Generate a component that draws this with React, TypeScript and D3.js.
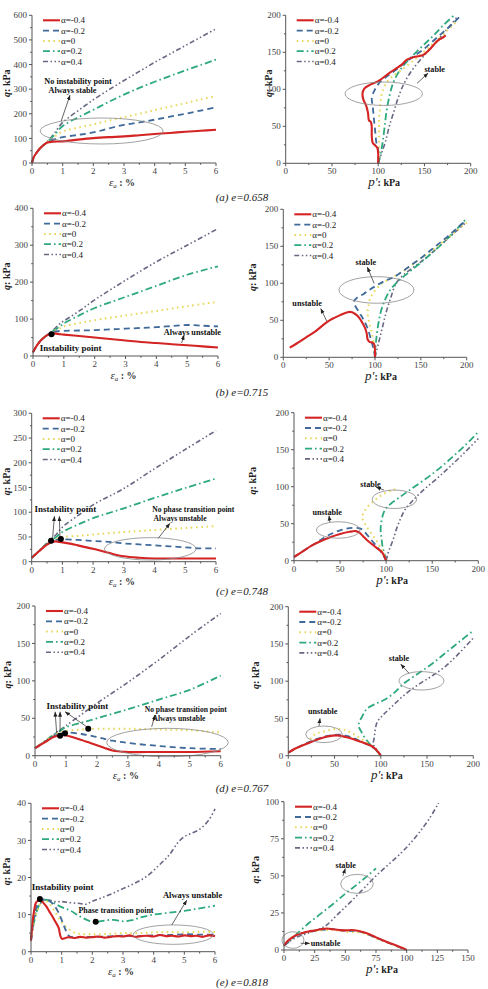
import React from "react";
import * as d3 from "d3";

type Pt = [number, number];

const FONT = "'Liberation Serif', 'Times New Roman', serif";

// series order everywhere: α=-0.4, -0.2, 0, 0.2, 0.4
const ALPHAS = ["-0.4", "-0.2", "0", "0.2", "0.4"];
const COLORS = ["#d42424", "#3f6a9a", "#e6d85a", "#2ea97d", "#686884"];
const DASHES = ["none", "6,4", "1.6,3.6", "7,3,1.6,3", "5,2.5,1.5,2.5,1.5,2.5"];
const WIDTHS = [2.1, 1.8, 2, 1.8, 1.6];

const CAPTIONS = ["(a) e=0.658", "(b) e=0.715", "(c) e=0.748", "(d) e=0.767", "(e) e=0.818"];

// ---- stress–strain curves (εa %, q kPa) ----
const STRAIN_A: Pt[][] = [
  [[0,0],[0.05,22],[0.15,42],[0.25,58],[0.4,75],[0.5,83],[0.7,87],[1,88],[1.5,95],[2,101],[2.5,105],[3,108],[3.5,113],[4,118],[4.5,122],[5,127],[5.5,131],[6,135]],
  [[0,0],[0.05,22],[0.15,42],[0.25,58],[0.4,75],[0.5,84],[0.7,95],[1,105],[1.5,114],[2,124],[2.5,140],[3,155],[3.5,165],[4,176],[4.5,188],[5,200],[5.5,213],[6,226]],
  [[0,0],[0.05,22],[0.15,42],[0.25,58],[0.4,75],[0.5,85],[0.7,104],[1,128],[1.5,143],[2,157],[2.5,172],[3,186],[3.5,200],[4,215],[4.5,229],[5,243],[5.5,258],[6,272]],
  [[0,0],[0.05,22],[0.15,42],[0.25,58],[0.4,75],[0.5,86],[0.7,110],[1,150],[1.5,185],[2,216],[2.5,248],[3,278],[3.5,305],[4,330],[4.5,353],[5,376],[5.5,398],[6,420]],
  [[0,0],[0.05,22],[0.15,42],[0.25,58],[0.4,75],[0.5,87],[0.7,116],[1,165],[1.5,212],[2,257],[2.5,297],[3,335],[3.5,372],[4,409],[4.5,443],[5,477],[5.5,511],[6,545]],
];

const STRAIN_B: Pt[][] = [
  [[0,10],[0.1,25],[0.2,37],[0.3,46],[0.45,56],[0.6,61],[0.8,60],[1,58],[1.5,54],[2,50],[2.5,46],[3,42],[3.5,38],[4,35],[4.5,32],[5,29],[5.5,26],[6,23]],
  [[0,10],[0.1,25],[0.2,37],[0.3,46],[0.45,56],[0.6,63],[0.8,67],[1,68],[1.5,69],[2,70],[2.5,72],[3,74],[3.5,76],[4,78],[4.5,81],[5,84],[5.5,82],[6,80]],
  [[0,10],[0.1,25],[0.2,37],[0.3,46],[0.45,56],[0.6,64],[0.8,72],[1,80],[1.5,89],[2,97],[3,110],[4,122],[5,135],[6,147]],
  [[0,10],[0.1,25],[0.2,37],[0.3,46],[0.45,56],[0.6,65],[0.8,76],[1,88],[1.5,110],[2,130],[3,160],[4,190],[5,220],[6,243]],
  [[0,10],[0.1,25],[0.2,37],[0.3,46],[0.45,56],[0.6,66],[0.8,82],[0.9,90],[1,95],[1.5,122],[2,152],[3,205],[4,255],[5,300],[6,345]],
];

const STRAIN_C: Pt[][] = [
  [[0,8],[0.2,19],[0.4,30],[0.6,38],[0.75,41],[0.9,40],[1.2,37],[1.5,33],[2,26],[2.5,18],[3,11],[3.5,8],[4,6.5],[4.5,6.5],[5,6.5],[5.5,6.5],[6,6.5]],
  [[0,8],[0.2,19],[0.4,30],[0.6,39],[0.8,44],[1,45],[1.5,44],[2,42],[2.5,40],[3,37],[3.5,35],[4,33],[4.5,31],[5,29],[5.5,27],[6,27]],
  [[0,8],[0.2,19],[0.4,30],[0.6,40],[0.8,46],[1,50],[1.5,52],[2,55],[3,60],[4,64],[5,68],[6,72]],
  [[0,8],[0.2,19],[0.4,31],[0.6,42],[0.8,50],[1,60],[1.5,75],[2,88],[3,108],[4,129],[5,149],[6,168]],
  [[0,8],[0.2,20],[0.4,32],[0.6,44],[0.8,55],[1,70],[1.5,93],[2,115],[3,148],[4,188],[5,227],[6,265]],
];

const STRAIN_D: Pt[][] = [
  [[0,10],[0.2,15],[0.4,20],[0.6,25],[0.8,27],[1,27],[1.5,21],[2,14],[2.5,7],[3,5],[4,5],[5,5],[6,6]],
  [[0,10],[0.2,15],[0.4,21],[0.6,26],[0.8,29],[1,31],[1.5,29],[2,25],[2.5,20],[3,17],[4,13],[5,10],[6,9]],
  [[0,10],[0.2,16],[0.4,22],[0.6,27],[0.8,31],[1,33],[1.5,35],[2,36],[3,36],[4,35],[5,34],[6,31]],
  [[0,10],[0.2,16],[0.4,22],[0.6,28],[0.8,33],[1,38],[1.5,44],[2,50],[3,62],[4,75],[5,88],[6,107]],
  [[0,10],[0.2,16],[0.4,22],[0.6,28],[0.8,34],[1,40],[1.5,55],[2,70],[3,98],[4,128],[5,160],[6,190]],
];

const STRAIN_E: Pt[][] = [
  [[0,3],[0.05,8],[0.1,11],[0.15,13],[0.2,13.6],[0.3,13.8],[0.4,13.2],[0.5,12.2],[0.6,10.8],[0.7,9.5],[0.8,8],[0.9,6.5],[0.95,4.5],[1,3.5],[1.1,3.6],[1.2,3.9],[1.4,3.7],[1.6,4],[1.8,3.8],[2,3.9],[2.2,4.1],[2.4,3.8],[2.6,4],[2.8,4.2],[3,4.1],[3.2,4.4],[3.4,4],[3.6,4.2],[3.8,4.3],[4,4.1],[4.2,4.5],[4.4,4.2],[4.6,4.3],[4.8,4.1],[5,4.4],[5.2,4.2],[5.4,4.3],[5.6,4],[5.8,4.4],[6,4.2]],
  [[0,3],[0.1,9],[0.2,12.5],[0.35,14],[0.5,14],[0.7,13],[0.9,10.5],[1.05,7.5],[1.15,5.5],[1.25,4.2],[1.4,3.9],[1.7,4],[2,4],[2.5,4.1],[3,4.3],[3.5,4.2],[4,4.4],[4.5,4.5],[5,4.7],[5.5,4.6],[6,4.6]],
  [[0,3],[0.1,8],[0.25,12],[0.4,14],[0.6,13],[0.8,10.5],[1,8],[1.2,6.3],[1.4,5.2],[1.6,4.8],[2,4.7],[2.5,4.8],[3,5],[3.5,5],[4,5.2],[4.5,5.3],[5,5.2],[5.5,5.4],[6,5.3]],
  [[0,3],[0.1,8],[0.3,13],[0.5,14],[0.7,13.3],[1,12],[1.3,11],[1.6,9.5],[1.9,8.3],[2.1,8],[2.4,8.4],[2.7,8.6],[3,8.2],[3.3,8.5],[3.6,9.3],[4,10],[4.5,10.5],[5,11],[5.5,11.7],[6,12.4]],
  [[0,3],[0.1,9],[0.3,13],[0.5,14],[0.8,13.5],[1,13.5],[1.3,13.2],[1.6,13],[1.8,12.8],[2,13.6],[2.3,14.5],[2.6,15.5],[3,17],[3.4,18.5],[3.8,20.5],[4.2,23.5],[4.5,26],[4.8,29.5],[5,31],[5.2,31.8],[5.5,33],[5.8,35.5],[6,38.5]],
];

// ---- effective stress paths (p' kPa, q kPa) ----
const PATH_A: Pt[][] = [
  [[100,0],[100,12],[99,21],[96,25],[94,28],[93,38],[93,50],[92,56],[90,58],[89,68],[87,78],[84,86],[83,94],[85,101],[91,106],[100,111],[113,123],[125,133],[131,140],[140,144],[148,146],[155,153],[162,163],[167,168],[170,170],[173,173]],
  [[100,0],[100,18],[98,28],[97,40],[96,52],[95,65],[94,78],[93,88],[95,96],[98,103],[102,110],[110,118],[120,127],[130,137],[140,146],[150,155],[160,166],[170,177],[180,188],[189,199]],
  [[100,0],[101,15],[101,30],[101,45],[101,60],[102,75],[103,88],[105,99],[109,109],[115,117],[125,126],[135,136],[145,146],[155,157],[165,168],[175,180],[185,192]],
  [[100,0],[103,15],[105,30],[107,50],[109,70],[112,90],[116,108],[122,123],[130,136],[140,149],[150,161],[160,173],[170,186],[182,200]],
  [[100,0],[104,15],[108,30],[112,50],[117,70],[122,90],[128,108],[135,123],[145,139],[155,153],[165,167],[175,182],[185,197]],
];

const PATH_B: Pt[][] = [
  [[7,13],[15,19],[25,27],[35,35],[48,48],[55,53],[62,57],[70,61],[75,61],[79,58],[83,53],[86,47],[89,40],[91,32],[92,24],[94,21],[97,20],[99,18],[100,0]],
  [[100,0],[99,8],[96,22],[92,39],[87,52],[82,62],[77,75],[80,80],[88,86],[95,92],[103,98],[112,104],[120,108],[130,116],[140,125],[150,134],[160,144],[170,154],[180,164],[190,175],[200,186]],
  [[100,0],[99,15],[97,30],[94,45],[92,60],[93,70],[95,80],[100,90],[108,100],[116,106],[125,112],[135,120],[145,129],[155,138],[165,147],[175,157],[185,167],[195,177],[200,182]],
  [[100,0],[101,20],[103,40],[106,60],[110,75],[116,90],[123,100],[132,110],[142,120],[152,130],[162,141],[172,152],[182,164],[192,177],[200,188]],
  [[100,0],[104,20],[108,40],[112,60],[117,80],[123,100],[130,110],[140,120],[150,129],[160,139],[170,150],[180,161],[190,172],[200,183]],
];

const PATH_C: Pt[][] = [
  [[0,5],[5,9],[10,13],[20,21],[30,27],[40,32],[50,36],[60,39],[67,40],[71,38],[75,33],[80,27],[85,22],[90,17],[95,12],[98,6],[100,0]],
  [[0,5],[10,13],[20,21],[30,29],[40,36],[50,41],[60,44],[70,44],[74,42],[78,37],[82,31],[86,25],[90,19],[95,11],[100,0]],
  [[100,0],[97,10],[93,20],[88,30],[82,40],[77,50],[74,58],[76,66],[80,73],[86,80],[93,87],[100,92],[108,96],[114,98]],
  [[100,0],[98,10],[96,20],[95,30],[94,42],[95,54],[97,64],[100,71],[105,77],[115,86],[125,95],[140,108],[155,122],[170,138],[185,155],[200,174]],
  [[100,0],[102,10],[105,20],[108,30],[111,42],[115,55],[120,68],[128,80],[140,95],[155,111],[170,128],[185,146],[200,165]],
];

const PATH_D: Pt[][] = [
  [[0,4],[5,8],[10,11],[20,16],[30,21],[40,25],[48,27],[55,27],[62,25],[68,23],[75,20],[82,17],[90,13],[95,8],[100,0]],
  [[0,4],[10,11],[20,17],[30,22],[40,26],[50,28],[58,28],[65,26],[72,23],[80,18],[88,14],[94,9],[100,0]],
  [[0,4],[10,11],[20,17],[25,24],[28,28],[33,31],[40,33],[47,35],[54,36],[60,35],[66,32],[72,28],[78,23],[84,18],[90,13],[95,8],[100,0]],
  [[100,0],[95,7],[90,13],[84,22],[79,32],[76,41],[80,53],[85,63],[95,70],[104,75],[115,85],[125,97],[140,110],[154,122],[170,138],[185,153],[200,168]],
  [[100,0],[96,8],[92,15],[93,25],[94,35],[96,45],[102,54],[112,66],[125,81],[140,95],[154,106],[170,120],[185,138],[200,158]],
];

const PATH_E: Pt[][] = [
  [[0,3],[3,6],[6,8],[10,10],[15,11.5],[20,12.5],[25,13.2],[30,14],[35,14.5],[40,14],[45,13.5],[50,13.2],[55,13.5],[60,13],[65,12],[70,10.5],[75,8.5],[80,6.8],[85,5],[90,3.5],[95,1.8],[100,0]],
  [[0,3],[4,6],[8,9],[12,10.5],[18,12],[25,13],[30,14],[34,13.5],[38,14.2],[45,13.5],[52,12.8],[58,13],[64,12],[70,10],[76,8],[82,6],[90,3.2],[100,0]],
  [[0,3],[2,5],[4,7],[8,9.5],[15,11.5],[22,12.5],[30,13],[38,13.5],[45,13],[52,12],[60,12],[66,11],[72,9],[78,6.8],[85,4.8],[92,2.5],[100,0]],
  [[0,3],[3,5],[6,7.5],[10,10.5],[20,18],[30,24.5],[40,31],[50,38],[60,44.5],[68,50],[75,55]],
  [[0,3],[5,6],[10,8.5],[20,11.5],[30,14.5],[35,17],[45,25],[55,33],[65,41.5],[75,50],[85,57.5],[95,65],[103,72],[110,79],[118,88],[126,99]],
];

// ---- annotations, in data units (ellipse radii in px) ----
type Ell = [number, number, number, number];
type Arrow = [number, number, number, number];
type Label = { x: number; y: number; t: string; size?: number; anchor?: string };

const ELL_A = [[2.27, 130, 61.5, 13]] as Ell[];
const ELL_A2 = [[106, 94, 38.7, 11.7]] as Ell[];
const ELL_B2 = [[101.6, 91, 37.5, 13.3]] as Ell[];
const ELL_C = [[3.86, 26, 45.8, 11.2]] as Ell[];
const ELL_C2 = [[109, 83, 22.2, 9.2], [48, 41.5, 21.7, 8.3]] as Ell[];
const ELL_D = [[4.28, 17.6, 60.8, 14.2]] as Ell[];
const ELL_D2 = [[144, 100.5, 22.5, 9.2], [38.6, 28.7, 18.3, 8.3]] as Ell[];
const ELL_E = [[4.64, 4.6, 40, 9.7]] as Ell[];
const ELL_E2 = [[59.5, 44.6, 16.3, 9.5], [7.3, 6.7, 11, 8.3]] as Ell[];

const ARR_A = [[0.95, 170, 1.24, 276]] as Arrow[];
const ARR_A2 = [[142, 108, 154, 122]] as Arrow[];
const ARR_B = [[4.82, 35, 4.9, 57]] as Arrow[];
const ARR_B2 = [[99, 100, 91.6, 122], [47.3, 49, 40.8, 66]] as Arrow[];
const ARR_C = [[0.68, 47.3, 0.74, 92], [0.92, 50.5, 0.9, 92], [4.12, 47.3, 4.5, 77.6]] as Arrow[];
const ARR_C2 = [[97.6, 95.5, 89, 99.6], [39, 52, 38, 61]] as Arrow[];
const ARR_D = [[0.7, 30, 0.65, 58.8], [0.81, 32, 0.81, 58.8], [1.67, 38.7, 0.97, 58.8], [3.77, 38.7, 3.88, 54.4]] as Arrow[];
const ARR_D2 = [[130.5, 110.6, 121.5, 123], [33.2, 39.9, 34.3, 50.2]] as Arrow[];
const ARR_E = [[4.59, 7.2, 5.08, 13.9]] as Arrow[];
const ARR_E2 = [[48, 50, 50, 55], [13.6, 4.5, 21, 4.5]] as Arrow[];

const DOT_B: Pt[] = [[0.6, 59]];
const DOT_C: Pt[] = [[0.63, 42.4], [0.95, 46]];
const DOT_D: Pt[] = [[0.81, 26.7], [0.97, 30], [1.72, 36]];
const DOT_E: Pt[] = [[0.29, 14.2], [2.11, 8.1]];

const TXT_A: Label[] = [{ x: 1.5, y: 334, t: "No instability  point" }, { x: 1.32, y: 296, t: "Always stable" }];
const TXT_A2: Label[] = [{ x: 161, y: 127, t: "stable" }];
const TXT_B: Label[] = [{ x: 1.22, y: 22, t: "Instability point", size: 9 }, { x: 5.17, y: 64, t: "Always unstable" }];
const TXT_B2: Label[] = [{ x: 90, y: 128, t: "stable" }, { x: 26, y: 73, t: "unstable" }];
const TXT_C: Label[] = [
  { x: 1.1, y: 106, t: "Instability point", size: 9 },
  { x: 5.26, y: 106, t: "No phase transition point", size: 7.6 },
  { x: 4.83, y: 88, t: "Always unstable", size: 7.6 },
];
const TXT_C2: Label[] = [{ x: 83, y: 103, t: "stable" }, { x: 36, y: 66, t: "unstable" }];
const TXT_D: Label[] = [
  { x: 1.37, y: 67, t: "Instability point", size: 9 },
  { x: 4.87, y: 62, t: "No phase transition point", size: 7.6 },
  { x: 4.65, y: 50.5, t: "Always unstable", size: 7.6 },
];
const TXT_D2: Label[] = [{ x: 119.7, y: 131.5, t: "stable" }, { x: 37.2, y: 60.4, t: "unstable" }];
const TXT_E: Label[] = [
  { x: 1.03, y: 17.5, t: "Instability point", size: 9 },
  { x: 2.77, y: 11.2, t: "Phase transition point", size: 8 },
  { x: 5.27, y: 15.3, t: "Always unstable", size: 8.5 },
];
const TXT_E2: Label[] = [{ x: 50.3, y: 57.3, t: "stable" }, { x: 21.8, y: 4.5, t: "unstable", anchor: "start" }];

type PanelProps = {
  box: [number, number, number, number]; // left, right, bottom, top
  xDomain: [number, number];
  yDomain: [number, number];
  xStep: number;
  yStep: number;
  series: Pt[][];
  kind: "strain" | "path";
  yLabelX: number;
  ellipses?: Ell[];
  arrows?: Arrow[];
  dots?: Pt[];
  labels?: Label[];
};

const Panel = ({ box, xDomain, yDomain, xStep, yStep, series, kind, yLabelX, ellipses = [], arrows = [], dots = [], labels = [] }: PanelProps) => {
  const [left, right, bottom, top] = box;
  const xs = d3.scaleLinear().domain(xDomain).range([left, right]);
  const ys = d3.scaleLinear().domain(yDomain).range([bottom, top]);
  const xTicks = d3.range(xDomain[0], xDomain[1] + xStep / 2, xStep);
  const yTicks = d3.range(yDomain[0], yDomain[1] + yStep / 2, yStep);
  const xMinor = xTicks.slice(1).map((t, i) => (t + xTicks[i]) / 2);
  const yMinor = yTicks.slice(1).map((t, i) => (t + yTicks[i]) / 2);
  const line = d3
    .line<Pt>()
    .x((d) => xs(d[0]))
    .y((d) => ys(d[1]))
    .curve(d3.curveCatmullRom.alpha(0.5));
  const axisColor = "#555";
  const midY = (top + bottom) / 2 - 6;
  const midX = (left + right) / 2;

  return (
    <g fontFamily={FONT}>
      {/* curves, α=0.4 underneath, α=-0.4 on top */}
      {series
        .map((s, i) => ({ s, i }))
        .reverse()
        .map(({ s, i }) => (
          <path
            key={i}
            d={line(s) ?? ""}
            fill="none"
            stroke={COLORS[i]}
            strokeWidth={WIDTHS[i]}
            strokeDasharray={DASHES[i]}
            strokeLinejoin="round"
          />
        ))}

      {ellipses.map(([cx, cy, rx, ry], i) => (
        <ellipse key={i} cx={xs(cx)} cy={ys(cy)} rx={rx} ry={ry} fill="none" stroke="#8a8a8a" strokeWidth={0.8} />
      ))}
      {arrows.map(([x1, y1, x2, y2], i) => (
        <line key={i} x1={xs(x1)} y1={ys(y1)} x2={xs(x2)} y2={ys(y2)} stroke="#222" strokeWidth={0.7} markerEnd="url(#arrowHead)" />
      ))}
      {dots.map(([x, y], i) => (
        <circle key={i} cx={xs(x)} cy={ys(y)} r={3} fill="#000" />
      ))}
      {labels.map((l, i) => (
        <text key={i} x={xs(l.x)} y={ys(l.y)} dy="0.35em" textAnchor={l.anchor ?? "middle"} fontSize={l.size ?? 8.2} fontWeight="bold" fill="#111">
          {l.t}
        </text>
      ))}

      {/* legend */}
      {ALPHAS.map((a, i) => {
        const y = top + 5 + i * 10.3;
        return (
          <g key={a}>
            <line x1={left + 11} x2={left + 28} y1={y} y2={y} stroke={COLORS[i]} strokeWidth={WIDTHS[i]} strokeDasharray={DASHES[i]} />
            <text x={left + 29} y={y} dy="0.35em" fontSize={9} fill="#222">
              {`α=${a}`}
            </text>
          </g>
        );
      })}

      {/* axes */}
      <line x1={left} x2={right} y1={bottom} y2={bottom} stroke={axisColor} strokeWidth={1} />
      <line x1={left} x2={left} y1={bottom} y2={top} stroke={axisColor} strokeWidth={1} />
      {xTicks.map((t) => (
        <g key={`x${t}`}>
          <line x1={xs(t)} x2={xs(t)} y1={bottom} y2={bottom + 3} stroke={axisColor} />
          <text x={xs(t)} y={bottom + 11} textAnchor="middle" fontSize={9} fill="#444">
            {t}
          </text>
        </g>
      ))}
      {xMinor.map((t) => (
        <line key={`xm${t}`} x1={xs(t)} x2={xs(t)} y1={bottom} y2={bottom + 1.8} stroke={axisColor} />
      ))}
      {yTicks.map((t) => (
        <g key={`y${t}`}>
          <line x1={left - 3} x2={left} y1={ys(t)} y2={ys(t)} stroke={axisColor} />
          <text x={left - 5} y={ys(t)} dy="0.35em" textAnchor="end" fontSize={9} fill="#444">
            {t}
          </text>
        </g>
      ))}
      {yMinor.map((t) => (
        <line key={`ym${t}`} x1={left - 1.8} x2={left} y1={ys(t)} y2={ys(t)} stroke={axisColor} />
      ))}

      <text transform={`translate(${yLabelX},${midY}) rotate(-90)`} textAnchor="middle" fontSize={10} fontWeight="bold" fill="#222">
        <tspan fontStyle="italic">q</tspan>: kPa
      </text>
      {kind === "strain" ? (
        <text x={midX - 2} y={bottom + 23} textAnchor="middle" fontSize={10} fill="#333">
          <tspan fontStyle="italic" fontSize={11}>ε</tspan>
          <tspan fontStyle="italic" fontSize={7} dy="2">a</tspan>
          <tspan dy="-2" fontWeight="bold"> : %</tspan>
        </text>
      ) : (
        <text x={midX + 6} y={bottom + 23} textAnchor="middle" fill="#222">
          <tspan fontStyle="italic" fontSize={13}>p'</tspan>
          <tspan fontSize={10} fontWeight="bold">:  kPa</tspan>
        </text>
      )}
    </g>
  );
};

const CAPTION_Y = [197, 392, 591, 788, 982];

export default function App() {
  return (
    <svg width={488} height={989} style={{ position: "absolute", left: 0, top: 0, background: "#fff" }}>
      <defs>
        <marker id="arrowHead" viewBox="0 0 10 10" refX={10} refY={5} markerWidth={5} markerHeight={5} markerUnits="userSpaceOnUse" orient="auto">
          <path d="M0,1 L10,5 L0,9 z" fill="#222" />
        </marker>
      </defs>
      <rect width={488} height={989} fill="#fff" />

      <Panel box={[32, 216, 163, 15.3]} xDomain={[0, 6]} yDomain={[0, 600]} xStep={1} yStep={100} series={STRAIN_A} kind="strain" yLabelX={10}
        ellipses={ELL_A} arrows={ARR_A} labels={TXT_A} />
      <Panel box={[285.7, 470.7, 163.3, 15.3]} xDomain={[0, 200]} yDomain={[0, 200]} xStep={50} yStep={50} series={PATH_A} kind="path" yLabelX={272}
        ellipses={ELL_A2} arrows={ARR_A2} labels={TXT_A2} />

      <Panel box={[33, 218, 356, 208.3]} xDomain={[0, 6]} yDomain={[0, 400]} xStep={1} yStep={100} series={STRAIN_B} kind="strain" yLabelX={10}
        arrows={ARR_B} dots={DOT_B} labels={TXT_B} />
      <Panel box={[283.3, 466.7, 357.3, 209.3]} xDomain={[0, 200]} yDomain={[0, 200]} xStep={50} yStep={50} series={PATH_B} kind="path" yLabelX={256}
        ellipses={ELL_B2} arrows={ARR_B2} labels={TXT_B2} />

      <Panel box={[31.7, 216, 561.7, 413.3]} xDomain={[0, 6]} yDomain={[0, 300]} xStep={1} yStep={50} series={STRAIN_C} kind="strain" yLabelX={10}
        ellipses={ELL_C} arrows={ARR_C} dots={DOT_C} labels={TXT_C} />
      <Panel box={[294, 478.3, 560.7, 412.7]} xDomain={[0, 200]} yDomain={[0, 200]} xStep={50} yStep={50} series={PATH_C} kind="path" yLabelX={256}
        ellipses={ELL_C2} arrows={ARR_C2} labels={TXT_C2} />

      <Panel box={[35, 220.7, 755.7, 606]} xDomain={[0, 6]} yDomain={[0, 200]} xStep={1} yStep={50} series={STRAIN_D} kind="strain" yLabelX={11}
        ellipses={ELL_D} arrows={ARR_D} dots={DOT_D} labels={TXT_D} />
      <Panel box={[288.3, 473.3, 755.7, 606.7]} xDomain={[0, 200]} yDomain={[0, 200]} xStep={50} yStep={50} series={PATH_D} kind="path" yLabelX={259}
        ellipses={ELL_D2} arrows={ARR_D2} labels={TXT_D2} />

      <Panel box={[31, 215, 951.7, 803.3]} xDomain={[0, 6]} yDomain={[0, 40]} xStep={1} yStep={10} series={STRAIN_E} kind="strain" yLabelX={10}
        ellipses={ELL_E} arrows={ARR_E} dots={DOT_E} labels={TXT_E} />
      <Panel box={[284, 468, 950, 801.7]} xDomain={[0, 150]} yDomain={[0, 100]} xStep={25} yStep={25} series={PATH_E} kind="path" yLabelX={259}
        ellipses={ELL_E2} arrows={ARR_E2} labels={TXT_E2} />

      {CAPTIONS.map((c, i) => (
        <text key={c} x={242} y={CAPTION_Y[i]} dy="0.35em" textAnchor="middle" fontFamily={FONT} fontStyle="italic" fontSize={11} fill="#222">
          {c}
        </text>
      ))}
    </svg>
  );
}
